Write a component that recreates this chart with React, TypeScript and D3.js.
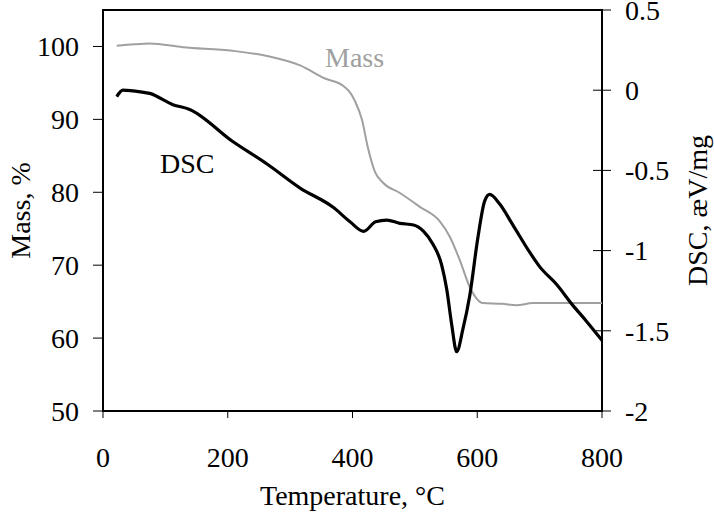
import { useEffect, useRef } from "react";
import * as d3 from "d3";

// Mass curve (TGA), temperature in °C and mass in %
const massTemp = [22, 50, 75, 128, 208, 263, 316, 356, 385, 396, 404, 415, 425, 436, 449, 476, 508, 540, 556, 572, 588, 609, 640, 663, 689, 800];
const massValues = [100.1, 100.3, 100.4, 99.9, 99.4, 98.7, 97.4, 95.6, 94.6, 93.7, 92.5, 90.0, 86.0, 82.8, 81.3, 79.9, 78.0, 76.0, 73.9, 70.7, 67.0, 64.8, 64.7, 64.5, 64.8, 64.8];

// DSC curve, temperature in °C and signal in æV/mg
const dscTemp = [22, 32, 60, 75, 112, 139, 208, 263, 316, 369, 396, 418, 437, 455, 476, 498, 514, 529, 543, 551, 559, 567, 577, 588, 601, 612, 620, 636, 657, 684, 700, 727, 753, 775, 800];
const dscValues = [-0.04, 0.0, -0.01, -0.02, -0.09, -0.12, -0.32, -0.46, -0.61, -0.73, -0.82, -0.88, -0.82, -0.81, -0.83, -0.84, -0.88, -0.96, -1.09, -1.24, -1.46, -1.63, -1.49, -1.28, -0.92, -0.69, -0.65, -0.71, -0.84, -1.01, -1.1, -1.21, -1.34, -1.44, -1.56];

const xTicks = [0, 200, 400, 600, 800];
const massTicks = [50, 60, 70, 80, 90, 100];
const dscTicks = [-2, -1.5, -1, -0.5, 0, 0.5];

const App = () => {
  const chartRef = useRef<SVGSVGElement | null>(null);

  useEffect(() => {
    const svg = d3.select(chartRef.current);
    svg.selectAll("*").remove();

    const font = "'Liberation Serif', 'Times New Roman', serif";
    const left = 103;
    const right = 602;
    const top = 10;
    const bottom = 411;

    const x = d3.scaleLinear().domain([0, 800]).range([left, right]);
    const yMass = d3.scaleLinear().domain([50, 105]).range([bottom, top]);
    const yDsc = d3.scaleLinear().domain([-2, 0.5]).range([bottom, top]);

    // frame
    svg
      .append("rect")
      .attr("x", left)
      .attr("y", top)
      .attr("width", right - left)
      .attr("height", bottom - top)
      .attr("fill", "none")
      .attr("stroke", "#000")
      .attr("stroke-width", 2);

    // bottom axis
    const gx = svg.append("g").attr("transform", `translate(0,${bottom})`);
    gx.selectAll("line")
      .data(xTicks)
      .join("line")
      .attr("x1", (d) => x(d))
      .attr("x2", (d) => x(d))
      .attr("y1", 0)
      .attr("y2", 7)
      .attr("stroke", "#000")
      .attr("stroke-width", 1);
    gx.selectAll("text")
      .data(xTicks)
      .join("text")
      .attr("x", (d) => x(d))
      .attr("y", 56)
      .attr("text-anchor", "middle")
      .attr("font-family", font)
      .attr("font-size", 28)
      .text((d) => d);

    // left axis
    const gl = svg.append("g");
    gl.selectAll("line")
      .data(massTicks)
      .join("line")
      .attr("x1", left - 10)
      .attr("x2", left)
      .attr("y1", (d) => yMass(d))
      .attr("y2", (d) => yMass(d))
      .attr("stroke", "#000")
      .attr("stroke-width", 1);
    gl.selectAll("text")
      .data(massTicks)
      .join("text")
      .attr("x", 79)
      .attr("y", (d) => yMass(d))
      .attr("dy", "0.35em")
      .attr("text-anchor", "end")
      .attr("font-family", font)
      .attr("font-size", 28)
      .text((d) => d);

    // right axis
    const gr = svg.append("g");
    gr.selectAll("line")
      .data(dscTicks)
      .join("line")
      .attr("x1", right - 9)
      .attr("x2", right + 9)
      .attr("y1", (d) => yDsc(d))
      .attr("y2", (d) => yDsc(d))
      .attr("stroke", "#000")
      .attr("stroke-width", 1);
    gr.selectAll("text")
      .data(dscTicks)
      .join("text")
      .attr("x", 625)
      .attr("y", (d) => yDsc(d))
      .attr("dy", "0.35em")
      .attr("text-anchor", "start")
      .attr("font-family", font)
      .attr("font-size", 28)
      .text((d) => String(d).replace("−", "-"));

    // axis titles
    svg
      .append("text")
      .attr("x", (left + right) / 2)
      .attr("y", 505)
      .attr("text-anchor", "middle")
      .attr("font-family", font)
      .attr("font-size", 28)
      .text("Temperature, °C");
    svg
      .append("text")
      .attr("transform", `translate(30,${(top + bottom) / 2}) rotate(-90)`)
      .attr("text-anchor", "middle")
      .attr("font-family", font)
      .attr("font-size", 28)
      .text("Mass, %");
    svg
      .append("text")
      .attr("transform", `translate(707,${(top + bottom) / 2}) rotate(-90)`)
      .attr("text-anchor", "middle")
      .attr("font-family", font)
      .attr("font-size", 28)
      .text("DSC, æV/mg");

    // curves
    const massLine = d3
      .line<number>()
      .x((d, i) => x(massTemp[i]))
      .y((d) => yMass(d))
      .curve(d3.curveMonotoneX);
    svg
      .append("path")
      .attr("d", massLine(massValues))
      .attr("fill", "none")
      .attr("stroke", "#a0a0a0")
      .attr("stroke-width", 2);

    const dscLine = d3
      .line<number>()
      .x((d, i) => x(dscTemp[i]))
      .y((d) => yDsc(d))
      .curve(d3.curveMonotoneX);
    svg
      .append("path")
      .attr("d", dscLine(dscValues))
      .attr("fill", "none")
      .attr("stroke", "#000")
      .attr("stroke-width", 3.2)
      .attr("stroke-linejoin", "round");

    // curve labels
    svg
      .append("text")
      .attr("x", 325)
      .attr("y", 67)
      .attr("font-family", font)
      .attr("font-size", 28)
      .attr("fill", "#a0a0a0")
      .text("Mass");
    svg
      .append("text")
      .attr("x", 160)
      .attr("y", 173)
      .attr("font-family", font)
      .attr("font-size", 28)
      .text("DSC");

    return () => {
      svg.selectAll("*").remove();
    };
  }, []);

  return (
    <svg
      ref={chartRef}
      width={714}
      height={512}
      style={{ position: "absolute", left: 0, top: 0, background: "#fff" }}
    />
  );
};

export default App;
